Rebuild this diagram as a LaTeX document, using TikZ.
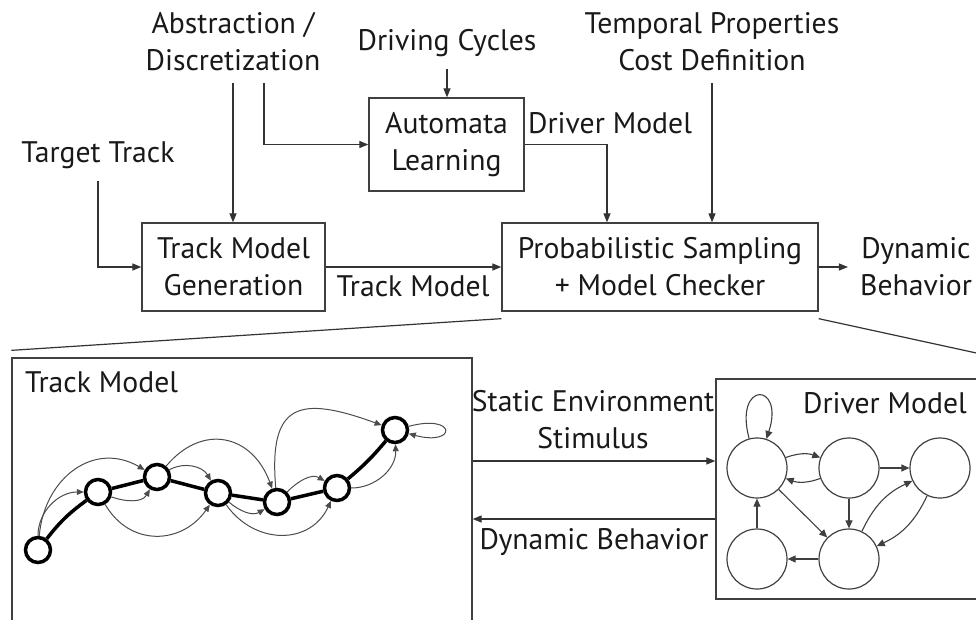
\documentclass[tikz,border=0pt]{standalone}
\usepackage{fontspec}
\setmainfont{PT Sans}
\usetikzlibrary{arrows.meta,calc}
\begin{document}
\begin{tikzpicture}[x=1pt,y=1pt,
  every node/.style={font=\fontsize{29.7}{37}\selectfont, text=black!90},
  txt/.style={inner sep=0pt, align=center},
  blk/.style={draw=black!75, line width=1.3pt, inner sep=0pt, align=center},
  arr/.style={draw=black!80, line width=1.2pt, -{Triangle[length=9pt,width=7pt]}},
  ln/.style={draw=black!80, line width=1.2pt},
  tn/.style={circle, draw=black, fill=white, line width=3.5pt, minimum size=25pt, inner sep=0pt},
  te/.style={draw=black!70, line width=1pt, -{Triangle[length=7pt,width=6pt]}},
  dn/.style={circle, draw=black!75, line width=1.2pt, minimum size=60pt, inner sep=0pt},
  de/.style={draw=black!75, line width=1.1pt, -{Triangle[length=8pt,width=7pt]}},
]
\useasboundingbox (0,0) rectangle (976,-619);
\clip (0,0) rectangle (976,-619);

% top texts
\node[txt] (abs) at (233,-42) {Abstraction /\\Discretization};
\node[txt, anchor=base] (dc) at (447,-50) {Driving Cycles};
\node[txt, anchor=base] (tt) at (98,-162) {Target Track};
\node[txt] (tp) at (712,-42) {Temporal Properties\\Cost Definition};

% blocks
\node[blk, minimum width=155pt, minimum height=93pt] (al) at (446.5,-144.5) {Automata\\Learning};
\node[blk, minimum width=183pt, minimum height=88pt] (tmg) at (233.5,-267) {Track Model\\Generation};
\node[blk, minimum width=316pt, minimum height=88pt] (ps) at (660,-267) {Probabilistic Sampling\\+ Model Checker};
\node[txt, anchor=base west] (dml) at (528,-133) {Driver Model};
\node[txt, anchor=base] (tml) at (413,-296) {Track Model};
\node[txt] (db) at (916,-267) {Dynamic\\Behavior};

% top connectors
\draw[arr, shorten <=12pt] (abs.south) -- (abs.south |- tmg.north);
\draw[arr, shorten <=12pt] ([xshift=31pt]abs.south) |- (al.west);
\draw[arr, shorten <=12pt] (dc.south) -- (dc.south |- al.north);
\draw[arr, shorten <=12pt] (tt.south) |- (tmg.west);
\draw[arr] (tmg.east) -- (ps.west);
\draw[arr] (al.east) -| ([xshift=-53pt]ps.north);
\draw[arr, shorten <=12pt] (tp.south) -- (tp.south |- ps.north);
\draw[arr, shorten >=12pt] (ps.east) -- (db.west |- ps.east);

% lower boxes
\node[blk, minimum width=460pt, minimum height=322pt] (tbox) at (242,-519) {};
\node[blk, minimum width=344pt, minimum height=220pt] (dbox) at (888,-489) {};
\draw[ln] ([yshift=-7pt]ps.south west) -- ([yshift=7pt]tbox.north west);
\draw[ln] ([yshift=-7pt]ps.south east) -- ([yshift=7pt]dbox.north east);

\node[txt, anchor=base west] (tmt) at (25,-392) {Track Model};
\node[txt, anchor=base east] (dmt) at (967,-413) {Driver Model};
\node[txt] (se) at (593,-420) {Static Environment\\Stimulus};
\node[txt, anchor=base] (dbl) at (594,-549) {Dynamic Behavior};

\draw[arr] (tbox.east |- 0,-461) -- (dbox.west |- 0,-461);
\draw[arr] (dbox.west |- 0,-519) -- (tbox.east |- 0,-519);

% track model graph
\node[tn] (n0) at (38,-550) {};
\node[tn] (n1) at (98,-492) {};
\node[tn] (n2) at (157,-477) {};
\node[tn] (n3) at (218,-493) {};
\node[tn] (n4) at (277,-502) {};
\node[tn] (n5) at (337,-488) {};
\node[tn] (n6) at (395,-430) {};
\draw[line width=3.5pt] (n0) to[bend left=8] (n1);
\draw[line width=3.5pt] (n1) -- (n2) -- (n3) -- (n4) -- (n5);
\draw[line width=3.5pt] (n5) to[bend right=5] (n6);

\draw[te] (n0) to[out=90,in=180] (n1);
\draw[te] (n0) to[out=85,in=150,looseness=1.2] (n2);
\draw[te] (n1) to[out=-20,in=-120] (n2);
\draw[te] (n1) to[out=-60,in=-125,looseness=1.2] (n3);
\draw[te] (n2) to[out=30,in=120] (n3);
\draw[te] (n2) to[out=50,in=110,looseness=1.35] (n4);
\draw[te] (n3) to[out=-40,in=-150] (n4);
\draw[te] (n3) to[out=-55,in=-115,looseness=1.2] (n5);
\draw[te] (n4) to[out=45,in=150] (n5);
\draw[te] (n4) to[out=95,in=160,looseness=1.8] (n6);
\draw[te] (n5) to[out=0,in=-88] (n6);
\draw[te] (n6) to[out=15,in=-15,min distance=50pt] (n6);

% driver model graph
\node[dn] (d1) at (757,-468) {};
\node[dn] (d2) at (849,-468) {};
\node[dn] (d3) at (940,-468) {};
\node[dn] (d4) at (757,-559) {};
\node[dn] (d5) at (849,-559) {};
\draw[de] (d1) to[out=105,in=72,min distance=60pt] (d1);
\draw[de] (d1) to[bend left=20] (d2);
\draw[de] (d2) to[bend left=20] (d1);
\draw[de] (d2) -- (d3);
\draw[de] (d2) -- (d5);
\draw[de] (d1) -- (d5);
\draw[de] (d5) to[bend left=20] (d3);
\draw[de] (d3) to[bend left=20] (d5);
\draw[de] (d5) -- (d4);
\draw[de] (d4) -- (d1);
\end{tikzpicture}
\end{document}
